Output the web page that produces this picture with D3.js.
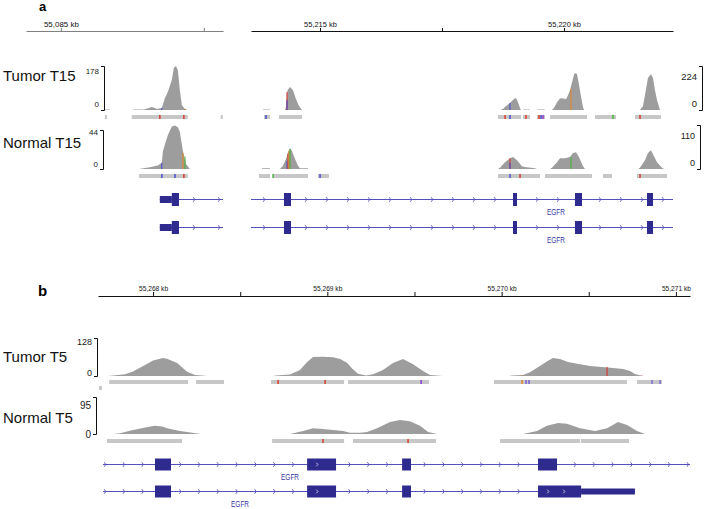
<!DOCTYPE html>
<html><head><meta charset="utf-8">
<script src="https://cdn.jsdelivr.net/npm/d3@7"></script>
<style>body{margin:0;background:#fff}svg{display:block}</style>
</head><body>
<svg id="c" width="707" height="509"></svg>
<script>
// ================= DATA =================
// Panel a: two genomic windows (kb)
const viewA_L = [55084.878, 55085.567];
const viewA_M = [55213.586, 55222.234];
const rulerTicksA_L = [55085, 55085.5];
const rulerTicksA_M = [55215, 55217.5, 55220];
const rangeTumorA = [178, 224];   // data range left / middle window
const rangeNormalA = [44, 110];

// coverage pieces: [kb, depth]
const tumorA_L = [
  [[55085.154,0],[55085.155,2],[55085.170,2],[55085.171,0]],
  [[55085.252,0],[55085.256,2],[55085.290,2],[55085.308,8],[55085.318,12],[55085.329,8],[55085.336,4],[55085.353,8],[55085.364,49],[55085.374,73],[55085.388,121],[55085.395,170],[55085.402,178],[55085.409,162],[55085.416,81],[55085.423,20],[55085.434,4],[55085.444,0]]
];
const tumorA_M = [
  [[55213.832,0],[55213.836,2],[55213.971,2],[55213.975,0]],
  [[55214.283,0],[55214.303,15],[55214.324,90],[55214.344,105],[55214.385,117],[55214.447,100],[55214.508,55],[55214.570,20],[55214.631,0]],
  [[55218.689,0],[55218.750,5],[55218.791,15],[55218.893,36],[55218.975,56],[55219.016,61],[55219.057,40],[55219.098,10],[55219.119,0]],
  [[55219.160,0],[55219.170,3],[55219.290,3],[55219.303,0]],
  [[55219.447,0],[55219.460,3],[55219.600,3],[55219.611,0]],
  [[55219.754,0],[55219.795,10],[55219.857,40],[55219.918,58],[55219.980,60],[55220.041,55],[55220.082,75],[55220.123,100],[55220.164,140],[55220.205,180],[55220.225,188],[55220.266,183],[55220.307,130],[55220.348,70],[55220.389,15],[55220.410,0]],
  [[55221.557,0],[55221.619,20],[55221.660,76],[55221.721,163],[55221.783,183],[55221.824,163],[55221.865,100],[55221.906,51],[55221.967,0]]
];
const normalA_L = [
  [[55085.273,0],[55085.311,2],[55085.339,4],[55085.353,7],[55085.357,20],[55085.364,28],[55085.374,38],[55085.388,48],[55085.399,49],[55085.409,47],[55085.416,42],[55085.427,20],[55085.437,6],[55085.451,0]]
];
const normalA_M = [
  [[55213.811,0],[55213.815,2],[55213.971,2],[55213.975,0]],
  [[55214.180,0],[55214.242,8],[55214.303,25],[55214.344,42],[55214.385,52],[55214.426,45],[55214.488,25],[55214.549,8],[55214.590,2],[55214.750,2],[55214.754,0]],
  [[55218.648,0],[55218.689,3],[55218.791,17],[55218.893,27],[55218.955,30],[55219.037,22],[55219.139,7],[55219.201,5],[55219.406,2],[55219.447,0]],
  [[55219.713,0],[55219.754,3],[55219.857,17],[55219.918,27],[55220.020,27],[55220.123,30],[55220.184,40],[55220.246,42],[55220.307,30],[55220.389,7],[55220.430,0]],
  [[55221.516,0],[55221.557,3],[55221.660,22],[55221.721,40],[55221.783,47],[55221.824,37],[55221.906,17],[55222.008,3],[55222.049,0]]
];
// reads: [start, end, row]
const readsTA_L = [[55085.154,55085.161,0],[55085.248,55085.444,0],[55085.559,55085.566,0]];
const readsTA_M = [[55213.852,55213.975,0],[55214.160,55214.631,0],[55218.648,55219.119,0],[55219.160,55219.303,0],[55219.447,55219.611,0],[55219.713,55220.471,0],[55220.635,55221.066,0],[55221.455,55221.988,0]];
const readsNA_L = [[55085.273,55085.444,0]];
const readsNA_M = [[55213.750,55213.975,0],[55214.037,55214.754,0],[55214.959,55215.184,0],[55218.648,55219.508,0],[55219.611,55220.574,0],[55220.799,55220.984,0],[55221.496,55222.111,0]];
// mismatch marks in coverage: [kb, depth, colour]; in reads: [kb, colour]
const covMarksTA_L = [[55085.353,8,"#4a4fd0"],[55085.434,4,"#e28a2c"]];
const covMarksTA_M = [[55214.324,90,"#dd3b2e"],[55214.324,50,"#4a4fd0"],[55218.893,36,"#4a4fd0"],[55220.143,107,"#e2862a"]];
const readMarksTA_L = [[55085.346,"#dd3b2e"],[55085.430,"#dd3b2e"]];
const readMarksTA_M = [[55213.893,"#4a4fd0"],[55218.791,"#dd3b2e"],[55218.893,"#4a4fd0"],[55219.221,"#dd3b2e"],[55219.488,"#dd3b2e"],[55219.529,"#4a4fd0"],[55219.570,"#9a3fc8"],[55221.004,"#49b43c"],[55221.557,"#dd3b2e"]];
const covMarksNA_L = [[55085.353,7,"#4a4fd0"],[55085.427,18,"#e2862a"],[55085.434,14,"#49b43c"]];
const covMarksNA_M = [[55214.324,20,"#4a4fd0"],[55214.344,38,"#dd3b2e"],[55214.365,45,"#e2862a"],[55214.385,50,"#49b43c"],[55218.893,27,"#dd3b2e"],[55218.893,15,"#4a4fd0"],[55220.143,30,"#49b43c"]];
const readMarksNA_L = [[55085.353,"#4a4fd0"],[55085.399,"#4a4fd0"],[55085.430,"#dd3b2e"]];
const readMarksNA_M = [[55214.037,"#49b43c"],[55215.000,"#4a4fd0"],[55218.893,"#4a4fd0"],[55219.098,"#dd3b2e"],[55221.557,"#dd3b2e"]];
// gene models: line extent and exons [start, end, type]
const geneA_L_line = [55085.346, 55085.567];
const geneA_L_exons = [[55085.346,55085.388,"utr"],[55085.388,55085.413,"cds"]];
const geneA_M_line = [55213.586, 55222.234];
const geneA_M_exons = [[55214.262,55214.406,"cds"],[55218.955,55219.037,"cds"],[55220.225,55220.369,"cds"],[55221.701,55221.824,"cds"]];
const geneLabelA = 55219.836;

// Panel b
const viewB = [55267.684, 55271.081];
const rulerTicksB = [55268, 55268.5, 55269, 55269.5, 55270, 55270.5, 55271];
const rangeTumorB = 128, rangeNormalB = 95;
const tumorB = [
  [[55267.742,0],[55267.771,2],[55267.839,6],[55267.885,15],[55267.943,34],[55268.000,52],[55268.040,58],[55268.057,61],[55268.080,58],[55268.138,44],[55268.195,14],[55268.241,3],[55268.298,1],[55268.304,0]],
  [[55268.688,0],[55268.706,2],[55268.786,5],[55268.843,20],[55268.884,47],[55268.918,64],[55268.975,65],[55269.033,63],[55269.073,57],[55269.113,45],[55269.142,25],[55269.176,8],[55269.222,2],[55269.262,6],[55269.319,20],[55269.377,44],[55269.434,57],[55269.492,40],[55269.549,17],[55269.589,3],[55269.664,0]],
  [[55270.042,0],[55270.060,2],[55270.123,3],[55270.163,13],[55270.220,34],[55270.266,51],[55270.295,61],[55270.335,57],[55270.381,47],[55270.450,40],[55270.508,34],[55270.576,30],[55270.639,27],[55270.697,24],[55270.737,17],[55270.765,7],[55270.811,0]]
];
const normalB = [
  [[55267.771,0],[55267.811,2],[55267.885,10],[55267.971,18],[55268.011,21],[55268.052,19],[55268.080,15],[55268.155,8],[55268.224,3],[55268.275,0]],
  [[55268.786,0],[55268.861,8],[55268.918,15],[55268.975,13],[55269.090,8],[55269.130,3],[55269.188,3],[55269.228,5],[55269.285,15],[55269.360,31],[55269.417,36],[55269.474,33],[55269.532,21],[55269.578,5],[55269.630,0]],
  [[55270.123,0],[55270.203,8],[55270.260,21],[55270.324,28],[55270.375,26],[55270.450,15],[55270.536,8],[55270.605,15],[55270.668,31],[55270.720,23],[55270.777,8],[55270.823,0]]
];
const readsTB = [[55267.748,55268.201,0],[55268.247,55268.407,0],[55268.677,55269.096,0],[55269.119,55269.583,0],[55269.956,55270.719,0],[55270.777,55270.920,0],[55267.690,55267.707,1]];
const readsNB = [[55267.736,55268.166,0],[55268.683,55269.096,0],[55269.147,55269.624,0],[55269.991,55270.450,0],[55270.455,55270.731,0]];
const covMarksTB = [[55270.605,30,"#d8342a"],[55270.117,3,"#e2862a"],[55270.805,2,"#dd3b2e"]];
const readMarksTB = [[55268.717,"#dd3b2e"],[55268.987,"#dd3b2e"],[55269.538,"#8a3fd1"],[55270.117,"#e2862a"],[55270.140,"#7a5fd6"],[55270.157,"#7a5fd6"],[55270.863,"#7a6fd6"],[55270.909,"#7a6fd6"]];
const covMarksNB = [];
const readMarksNB = [[55268.975,"#dd3b2e"],[55269.463,"#dd3b2e"]];
const geneB1_line = [55267.713, 55271.081];
const geneB1_exons = [[55268.011,55268.103,"cds"],[55268.884,55269.050,"cds"],[55269.429,55269.480,"cds"],[55270.209,55270.318,"cds"]];
const geneB2_line = [55267.713, 55270.765];
const geneB2_exons = [[55268.011,55268.103,"cds"],[55268.884,55269.050,"cds"],[55269.429,55269.480,"cds"],[55270.209,55270.456,"cds"],[55270.456,55270.765,"utr"]];
const geneLabelB = [55268.786, 55268.499];

const trackLabels = ["Tumor T15", "Normal T15", "Tumor T5", "Normal T5"];
const geneName = "EGFR";

// ================= DRAWING =================
const svg = d3.select("#c");
const F = "'Liberation Sans', Arial, Helvetica, sans-serif";
const COV = "#9d9d9d", READ = "#c7c7c7", EXON = "#2e2a8e", GLINE = "#5551bb", GTXT = "#3b37a6";
const fmtKb = d => d3.format(",")(d) + " kb";

const xAL = d3.scaleLinear().domain(viewA_L).range([26, 223]);
const xAM = d3.scaleLinear().domain(viewA_M).range([251, 673]);
const xB = d3.scaleLinear().domain(viewB).range([98, 690]);

const yTAL = d3.scaleLinear().domain([0, rangeTumorA[0]]).range([110, 66]);
const yTAM = d3.scaleLinear().domain([0, rangeTumorA[1]]).range([110, 66]);
const yNAL = d3.scaleLinear().domain([0, rangeNormalA[0]]).range([169, 130]);
const yNAM = d3.scaleLinear().domain([0, rangeNormalA[1]]).range([169, 125]);
const yTB = d3.scaleLinear().domain([0, rangeTumorB]).range([376, 338]);
const yNB = d3.scaleLinear().domain([0, rangeNormalB]).range([434, 397]);

// panel letters
svg.append("text").attr("x", 39).attr("y", 11).text("a").attr("font-family", F).attr("font-weight", "bold").attr("font-size", 13);
svg.append("text").attr("x", 38).attr("y", 296).text("b").attr("font-family", F).attr("font-weight", "bold").attr("font-size", 15);

function ruler(x, ticks, y, tickLen, color, labelLen) {
  const ax = d3.axisTop(x).tickValues(ticks).tickSize(tickLen).tickSizeOuter(0).tickPadding(1)
    .tickFormat(d => Number.isInteger(d) ? fmtKb(d) : "");
  const g = svg.append("g").attr("transform", `translate(0,${y})`).call(ax);
  g.select(".domain").attr("stroke", color);
  g.selectAll(".tick line").attr("stroke", color);
  g.selectAll(".tick text").attr("font-size", 8).attr("font-family", F).attr("fill", "#111")
    .filter(d => Number.isInteger(d))
    .attr("textLength", labelLen).attr("lengthAdjust", "spacingAndGlyphs");
}
ruler(xAL, rulerTicksA_L, 31, 3, "#808080", 35);
ruler(xAM, rulerTicksA_M, 31, 3, "#111", 33);
ruler(xB, rulerTicksB, 296, 4, "#111", 29);

// track labels
[[81, 0], [148, 1], [362, 2], [423, 3]].forEach(([y, i]) => {
  svg.append("text").attr("x", 3).attr("y", y).text(trackLabels[i])
    .attr("font-family", F).attr("font-size", 15).attr("fill", "#111");
});

// data range brackets
function bracket(x, y, maxBase, minBase, fs) {
  const [d0, d1] = y.domain();
  const t = Math.round(y(d1)) + 0.5, b = Math.round(y(d0)) + 0.5;
  svg.append("path").attr("d", `M${x - 3},${t}H${x + 0.5}V${b}H${x - 3}`)
    .attr("fill", "none").attr("stroke", "#111").attr("stroke-width", 1);
  svg.append("text").attr("x", x - 5).attr("y", maxBase).attr("text-anchor", "end").text(d1)
    .attr("font-family", F).attr("font-size", fs).attr("fill", "#222");
  svg.append("text").attr("x", x - 5).attr("y", minBase).attr("text-anchor", "end").text(d0)
    .attr("font-family", F).attr("font-size", fs).attr("fill", "#222");
}
bracket(104, yTAL, 74, 107, 8);
bracket(702, yTAM, 80, 107, 9.5);
bracket(103, yNAL, 135, 167, 8);
bracket(700, yNAM, 139, 166, 9);
bracket(97, yTB, 345, 376, 9);
bracket(96, yNB, 409, 438, 10);

function coverage(pieces, x, y) {
  const area = d3.area().x(d => x(d[0])).y0(y(0)).y1(d => y(d[1]));
  svg.append("g").selectAll("path").data(pieces).join("path").attr("d", area).attr("fill", COV);
}
function covMarks(marks, x, y) {
  svg.append("g").selectAll("line").data(marks).join("line")
    .attr("x1", d => x(d[0])).attr("x2", d => x(d[0]))
    .attr("y1", y(0)).attr("y2", d => y(d[1]))
    .attr("stroke", d => d[2]).attr("stroke-width", 1.1);
}
function reads(data, x, y0) {
  svg.append("g").selectAll("rect").data(data).join("rect")
    .attr("x", d => x(d[0])).attr("width", d => Math.max(1.5, x(d[1]) - x(d[0])))
    .attr("y", d => y0 + d[2] * 6).attr("height", 4).attr("fill", READ);
}
function readMarks(marks, x, y0) {
  svg.append("g").selectAll("rect").data(marks).join("rect")
    .attr("x", d => x(d[0]) - 0.7).attr("width", 1.5).attr("y", y0).attr("height", 4).attr("fill", d => d[1]);
}

// Panel a tracks
coverage(tumorA_L, xAL, yTAL); coverage(tumorA_M, xAM, yTAM);
covMarks(covMarksTA_L, xAL, yTAL); covMarks(covMarksTA_M, xAM, yTAM);
reads(readsTA_L, xAL, 115); reads(readsTA_M, xAM, 115);
readMarks(readMarksTA_L, xAL, 115); readMarks(readMarksTA_M, xAM, 115);

coverage(normalA_L, xAL, yNAL); coverage(normalA_M, xAM, yNAM);
covMarks(covMarksNA_L, xAL, yNAL); covMarks(covMarksNA_M, xAM, yNAM);
reads(readsNA_L, xAL, 174); reads(readsNA_M, xAM, 174);
readMarks(readMarksNA_L, xAL, 174); readMarks(readMarksNA_M, xAM, 174);

// Panel b tracks
coverage(tumorB, xB, yTB); covMarks(covMarksTB, xB, yTB);
reads(readsTB, xB, 380); readMarks(readMarksTB, xB, 380);
coverage(normalB, xB, yNB); covMarks(covMarksNB, xB, yNB);
reads(readsNB, xB, 439); readMarks(readMarksNB, xB, 439);

// gene models
function gene(x, y, line, exons, arrowStart, arrowStep, cdsH, utrH) {
  const g = svg.append("g");
  const x0 = x(line[0]), x1 = x(line[1]);
  g.append("line").attr("x1", x0).attr("x2", x1).attr("y1", y + 0.5).attr("y2", y + 0.5)
    .attr("stroke", GLINE).attr("stroke-width", 1);
  const px = exons.map(e => [x(e[0]), x(e[1])]);
  const arrows = d3.range(arrowStart, x1 - 1, arrowStep)
    .filter(p => p > x0 + 1 && !px.some(([a, b]) => p > a - 2 && p < b + 2));
  g.selectAll("path.ar").data(arrows).join("path").attr("class", "ar")
    .attr("d", p => `M${p - 0.8},${y - 1.8}L${p + 0.8},${y + 0.5}L${p - 0.8},${y + 2.8}`)
    .attr("fill", "none").attr("stroke", GLINE).attr("stroke-width", 0.9);
  g.selectAll("rect").data(exons).join("rect")
    .attr("x", d => x(d[0])).attr("width", d => x(d[1]) - x(d[0]))
    .attr("y", d => d[2] === "utr" ? y + 0.5 - utrH / 2 : y + 0.5 - cdsH / 2)
    .attr("height", d => d[2] === "utr" ? utrH : cdsH).attr("fill", EXON);
  // white strand chevrons inside wide coding exons
  const inner = [];
  exons.filter(d => d[2] === "cds").forEach(d => {
    const a = x(d[0]), b = x(d[1]);
    if (b - a > 24) d3.range(a + 10, b - 4, 16).forEach(p => inner.push(p));
  });
  g.selectAll("path.wi").data(inner).join("path").attr("class", "wi")
    .attr("d", p => `M${p - 0.8},${y - 1.3}L${p + 0.8},${y + 0.5}L${p - 0.8},${y + 2.3}`)
    .attr("fill", "none").attr("stroke", "#fff").attr("stroke-width", 0.7);
}
function geneLabel(x, kb, y) {
  svg.append("text").attr("x", x(kb)).attr("y", y).attr("text-anchor", "middle").text(geneName)
    .attr("font-family", F).attr("font-size", 8.5).attr("fill", GTXT)
    .attr("textLength", 18).attr("lengthAdjust", "spacingAndGlyphs");
}
[199, 227].forEach((y, i) => {
  gene(xAL, y, geneA_L_line, geneA_L_exons, 169, 25, 13, 7);
  gene(xAM, y, geneA_M_line, geneA_M_exons, 264, 21, 13, 7);
  geneLabel(xAM, geneLabelA, i === 0 ? 215 : 243);
});
gene(xB, 464, geneB1_line, geneB1_exons, 105, 18.8, 12, 6);
gene(xB, 491, geneB2_line, geneB2_exons, 105, 18.8, 12, 6);
geneLabel(xB, geneLabelB[0], 480);
geneLabel(xB, geneLabelB[1], 507);
</script>
</body></html>
